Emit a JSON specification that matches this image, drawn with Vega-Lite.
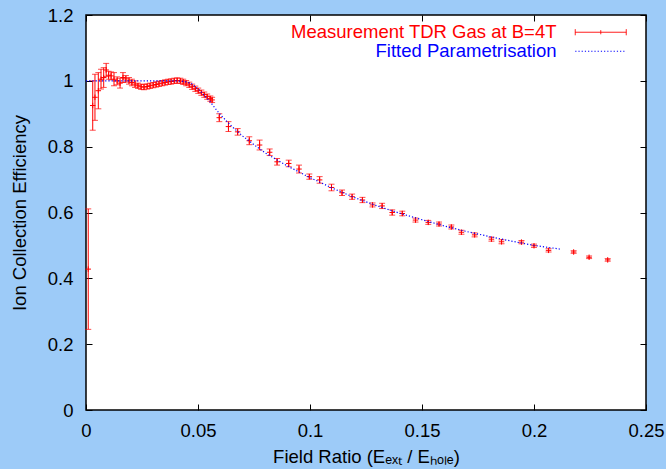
{
  "$schema": "https://vega.github.io/schema/vega-lite/v6.json",
  "width": 560,
  "height": 395,
  "autosize": {"type": "none"},
  "padding": {"left": 86, "top": 15, "right": 20, "bottom": 59},
  "background": "#9dcbf8",
  "config": {
    "view": {"fill": "white", "stroke": "black", "strokeWidth": 1.5},
    "axis": {
      "domain": false,
      "grid": false,
      "labelFont": "Liberation Sans",
      "labelFontSize": 18.5,
      "labelColor": "black",
      "labelFlush": false,
      "labelOverlap": false,
      "titleFont": "Liberation Sans",
      "titleFontSize": 18.5,
      "titleFontWeight": "normal",
      "titleColor": "black",
      "tickColor": "black",
      "tickSize": -6,
      "tickWidth": 1
    }
  },
  "datasets": {
    "meas": [
      {"x": 0.001, "y": 0.428, "e": 0.183},
      {"x": 0.0030, "y": 0.925, "e": 0.075},
      {"x": 0.0040, "y": 0.95, "e": 0.07},
      {"x": 0.0055, "y": 0.97, "e": 0.055},
      {"x": 0.0067, "y": 1.005, "e": 0.03},
      {"x": 0.0079, "y": 1.01, "e": 0.03},
      {"x": 0.0090, "y": 1.033, "e": 0.02},
      {"x": 0.0101, "y": 1.017, "e": 0.012},
      {"x": 0.0112, "y": 1.015, "e": 0.012},
      {"x": 0.0125, "y": 1.005, "e": 0.02},
      {"x": 0.0139, "y": 1.0, "e": 0.012},
      {"x": 0.0152, "y": 0.993, "e": 0.015},
      {"x": 0.0165, "y": 1.01, "e": 0.015},
      {"x": 0.0178, "y": 1.006, "e": 0.01},
      {"x": 0.0192, "y": 1.0, "e": 0.01},
      {"x": 0.0205, "y": 0.995, "e": 0.01},
      {"x": 0.0219, "y": 0.99, "e": 0.01},
      {"x": 0.0232, "y": 0.985, "e": 0.008},
      {"x": 0.0246, "y": 0.982, "e": 0.008},
      {"x": 0.0259, "y": 0.981, "e": 0.008},
      {"x": 0.0273, "y": 0.983, "e": 0.008},
      {"x": 0.0286, "y": 0.985, "e": 0.008},
      {"x": 0.0300, "y": 0.987, "e": 0.008},
      {"x": 0.0313, "y": 0.989, "e": 0.008},
      {"x": 0.0326, "y": 0.991, "e": 0.008},
      {"x": 0.0340, "y": 0.993, "e": 0.008},
      {"x": 0.0353, "y": 0.995, "e": 0.008},
      {"x": 0.0367, "y": 0.997, "e": 0.008},
      {"x": 0.0380, "y": 0.998, "e": 0.008},
      {"x": 0.0394, "y": 1.0, "e": 0.008},
      {"x": 0.0407, "y": 1.001, "e": 0.008},
      {"x": 0.0421, "y": 1.0, "e": 0.008},
      {"x": 0.0434, "y": 0.997, "e": 0.008},
      {"x": 0.0447, "y": 0.993, "e": 0.008},
      {"x": 0.0461, "y": 0.988, "e": 0.008},
      {"x": 0.0474, "y": 0.982, "e": 0.008},
      {"x": 0.0488, "y": 0.976, "e": 0.008},
      {"x": 0.0501, "y": 0.97, "e": 0.008},
      {"x": 0.0515, "y": 0.964, "e": 0.008},
      {"x": 0.0528, "y": 0.958, "e": 0.008},
      {"x": 0.0541, "y": 0.952, "e": 0.008},
      {"x": 0.0555, "y": 0.946, "e": 0.008},
      {"x": 0.0563, "y": 0.942, "e": 0.008},
      {"x": 0.0595, "y": 0.888, "e": 0.012},
      {"x": 0.0636, "y": 0.861, "e": 0.015},
      {"x": 0.0677, "y": 0.845, "e": 0.01},
      {"x": 0.0729, "y": 0.818, "e": 0.012},
      {"x": 0.0775, "y": 0.805, "e": 0.015},
      {"x": 0.082, "y": 0.783, "e": 0.01},
      {"x": 0.0853, "y": 0.754, "e": 0.01},
      {"x": 0.0905, "y": 0.749, "e": 0.01},
      {"x": 0.0951, "y": 0.732, "e": 0.012},
      {"x": 0.0997, "y": 0.709, "e": 0.008},
      {"x": 0.1043, "y": 0.699, "e": 0.01},
      {"x": 0.1096, "y": 0.676, "e": 0.01},
      {"x": 0.1143, "y": 0.66, "e": 0.008},
      {"x": 0.1188, "y": 0.648, "e": 0.008},
      {"x": 0.1234, "y": 0.638, "e": 0.008},
      {"x": 0.1279, "y": 0.623, "e": 0.006},
      {"x": 0.1322, "y": 0.62, "e": 0.008},
      {"x": 0.1367, "y": 0.6, "e": 0.008},
      {"x": 0.1412, "y": 0.597, "e": 0.007},
      {"x": 0.1471, "y": 0.577, "e": 0.006},
      {"x": 0.1528, "y": 0.57, "e": 0.006},
      {"x": 0.1576, "y": 0.565, "e": 0.006},
      {"x": 0.1631, "y": 0.556, "e": 0.006},
      {"x": 0.1676, "y": 0.54, "e": 0.006},
      {"x": 0.1735, "y": 0.532, "e": 0.006},
      {"x": 0.181, "y": 0.519, "e": 0.006},
      {"x": 0.1855, "y": 0.511, "e": 0.006},
      {"x": 0.1944, "y": 0.51, "e": 0.005},
      {"x": 0.2, "y": 0.499, "e": 0.005},
      {"x": 0.2065, "y": 0.485, "e": 0.005},
      {"x": 0.2177, "y": 0.48, "e": 0.004},
      {"x": 0.2246, "y": 0.464, "e": 0.004},
      {"x": 0.2329, "y": 0.456, "e": 0.004}
    ],
    "fit": [
      {"fx": 0.0, "fy": 1.0, "s": "Fitted Parametrisation"},
      {"fx": 0.02, "fy": 1.0, "s": "Fitted Parametrisation"},
      {"fx": 0.04, "fy": 1.0, "s": "Fitted Parametrisation"},
      {"fx": 0.044, "fy": 0.998, "s": "Fitted Parametrisation"},
      {"fx": 0.047, "fy": 0.992, "s": "Fitted Parametrisation"},
      {"fx": 0.05, "fy": 0.976, "s": "Fitted Parametrisation"},
      {"fx": 0.0525, "fy": 0.958, "s": "Fitted Parametrisation"},
      {"fx": 0.055, "fy": 0.94, "s": "Fitted Parametrisation"},
      {"fx": 0.0575, "fy": 0.918, "s": "Fitted Parametrisation"},
      {"fx": 0.06, "fy": 0.897, "s": "Fitted Parametrisation"},
      {"fx": 0.065, "fy": 0.862, "s": "Fitted Parametrisation"},
      {"fx": 0.07, "fy": 0.832, "s": "Fitted Parametrisation"},
      {"fx": 0.075, "fy": 0.806, "s": "Fitted Parametrisation"},
      {"fx": 0.08, "fy": 0.781, "s": "Fitted Parametrisation"},
      {"fx": 0.09, "fy": 0.741, "s": "Fitted Parametrisation"},
      {"fx": 0.1, "fy": 0.706, "s": "Fitted Parametrisation"},
      {"fx": 0.11, "fy": 0.674, "s": "Fitted Parametrisation"},
      {"fx": 0.12, "fy": 0.645, "s": "Fitted Parametrisation"},
      {"fx": 0.13, "fy": 0.62, "s": "Fitted Parametrisation"},
      {"fx": 0.14, "fy": 0.598, "s": "Fitted Parametrisation"},
      {"fx": 0.15, "fy": 0.578, "s": "Fitted Parametrisation"},
      {"fx": 0.16, "fy": 0.559, "s": "Fitted Parametrisation"},
      {"fx": 0.17, "fy": 0.542, "s": "Fitted Parametrisation"},
      {"fx": 0.18, "fy": 0.527, "s": "Fitted Parametrisation"},
      {"fx": 0.19, "fy": 0.513, "s": "Fitted Parametrisation"},
      {"fx": 0.2, "fy": 0.5, "s": "Fitted Parametrisation"},
      {"fx": 0.2115, "fy": 0.489, "s": "Fitted Parametrisation"}
    ]
  },
  "layer": [
    {
      "data": {"name": "meas"},
      "mark": {"type": "errorbar", "ticks": {"size": 6, "color": "red", "thickness": 1}, "rule": {"color": "red", "strokeWidth": 1}},
      "encoding": {
        "x": {"field": "x", "type": "quantitative", "scale": {"domain": [0, 0.25], "nice": false, "zero": false},
          "axis": {"orient": "bottom", "values": [0, 0.05, 0.1, 0.15, 0.2, 0.25], "format": "~g", "labelPadding": 17, "titlePadding": 8, "title": "Field Ratio (Eₑₓₜ / Eₕₒₗₑ)"}},
        "y": {"field": "y", "type": "quantitative", "scale": {"domain": [0, 1.2], "nice": false, "zero": false},
          "axis": {"orient": "left", "values": [0, 0.2, 0.4, 0.6, 0.8, 1, 1.2], "format": "~g", "labelPadding": 19, "titlePadding": 18, "title": "Ion Collection Efficiency"}},
        "yError": {"field": "e"}
      }
    },
    {
      "data": {"name": "meas"},
      "mark": {"type": "point", "shape": "M-1,0L1,0M0,-1L0,1", "filled": false, "color": "red", "size": 30, "strokeWidth": 1, "opacity": 1},
      "encoding": {
        "x": {"field": "x", "type": "quantitative", "axis": null},
        "y": {"field": "y", "type": "quantitative", "axis": null}
      }
    },
    {
      "data": {"name": "fit"},
      "mark": {"type": "line", "strokeDash": [1.2, 2], "strokeWidth": 1.2},
      "encoding": {
        "x": {"field": "fx", "type": "quantitative", "axis": {"orient": "top", "values": [0, 0.05, 0.1, 0.15, 0.2, 0.25], "labels": false, "title": null}},
        "y": {"field": "fy", "type": "quantitative", "axis": {"orient": "right", "values": [0, 0.2, 0.4, 0.6, 0.8, 1, 1.2], "labels": false, "title": null}},
        "color": {
          "field": "s", "type": "nominal",
          "scale": {"domain": ["Measurement TDR Gas at B=4T", "Fitted Parametrisation"], "range": ["#ff0000", "#0000ff"]},
          "legend": {
            "title": null,
            "orient": "none",
            "legendX": 505.5,
            "legendY": 8,
            "padding": 0,
            "rowPadding": 0,
            "labelFont": "Liberation Sans",
            "labelFontSize": 18.5,
            "labelAlign": "right",
            "labelOffset": -53.5,
            "labelLimit": 600,
            "symbolSize": 16,
            "encode": {
              "labels": {"update": {"fill": {"signal": "datum.value === 'Fitted Parametrisation' ? '#0000ff' : '#ff0000'"}}},
              "symbols": {"update": {
                "shape": {"signal": "datum.value === 'Fitted Parametrisation' ? 'M-12.75,0L12.75,0' : 'M-12.75,0L12.75,0M-12.75,-1.5L-12.75,1.5M12.75,-1.5L12.75,1.5M0,-1L0,1'"},
                "strokeDash": {"signal": "datum.value === 'Fitted Parametrisation' ? [1.2, 2] : [1, 0]"},
                "stroke": {"signal": "datum.value === 'Fitted Parametrisation' ? '#0000ff' : '#ff0000'"},
                "strokeWidth": {"value": 1},
                "fill": {"value": "transparent"},
                "opacity": {"value": 1}
              }}
            }
          }
        }
      }
    }
  ],
  "resolve": {"axis": {"x": "independent", "y": "independent"}}
}
